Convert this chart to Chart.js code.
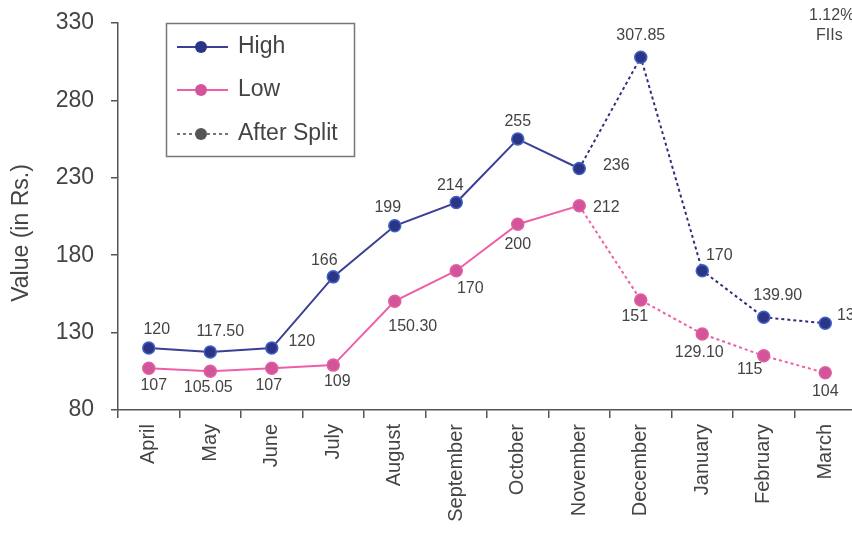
<!DOCTYPE html>
<html>
<head>
<meta charset="utf-8">
<script src="https://cdn.jsdelivr.net/npm/chart.js@4"></script>
<style>
  html, body { margin: 0; padding: 0; background: #fff; overflow: hidden; }
  #wrap { width: 856px; height: 543px; position: relative; }
</style>
</head>
<body>
<div id="wrap"><canvas id="chart"></canvas></div>
<script>
// data
const months = ["April", "May", "June", "July", "August", "September", "October",
  "November", "December", "January", "February", "March"];
const highValues = [120, 117.5, 120, 166, 199, 214, 255, 236, 307.85, 170, 139.9, 136];
const lowValues = [107, 105.05, 107, 109, 150.3, 170, 200, 212, 151, 129.1, 115, 104];
const highText = ["120", "117.50", "120", "166", "199", "214", "255", "236", "307.85", "170", "139.90", "136"];
const lowText = ["107", "105.05", "107", "109", "150.30", "170", "200", "212", "151", "129.10", "115", "104"];
const yTicks = [80, 130, 180, 230, 280, 330];
const splitIndex = 7; // dotted "after split" from November onwards

// where each value label sits relative to its point (dx, dy)
const highOffsets = [[8, -18], [10, -20], [30, -6], [-9, -16], [-7, -18], [-6, -17],
  [0, -18], [37, -3], [0, -22], [17, -15], [14, -22], [25, -8]];
const lowOffsets = [[5, 17], [-2, 16], [-3, 17], [4, 16], [18, 25], [14, 18],
  [0, 20], [27, 2], [-6, 17], [-3, 19], [-14, 14], [0, 19]];

const FONT = "'Liberation Sans', Arial, sans-serif";
const TEXT = "#444";
const HIGH_LINE = "#3b3f96";
const HIGH_DOT = "#2c3585";
const LOW_LINE = "#ee5fa7";
const LOW_DOT = "#d4549c";

const dashAfterSplit = (ctx) => (ctx.p0DataIndex >= splitIndex ? [3, 3] : undefined);

// value labels next to points, axis title and clipped note
const valueLabels = {
  id: "valueLabels",
  afterDatasetsDraw(chart) {
    const c = chart.ctx;
    c.save();
    c.font = "16px " + FONT;
    c.fillStyle = TEXT;
    c.textAlign = "center";
    c.textBaseline = "middle";
    [[0, highText, highOffsets], [1, lowText, lowOffsets]].forEach(([di, txt, off]) => {
      chart.getDatasetMeta(di).data.forEach((pt, i) => {
        c.fillText(txt[i], pt.x + off[i][0], pt.y + off[i][1]);
      });
    });
    c.textAlign = "left";
    c.fillText("1.12%", 809, 16);
    c.fillText("FIIs", 816, 36);

    c.translate(22, 233);
    c.rotate(-Math.PI / 2);
    c.textAlign = "center";
    c.font = "23px " + FONT;
    c.fillText("Value (in Rs.)", 0, 0);
    c.restore();
  }
};

// boxed legend with line + marker samples
const boxLegend = {
  id: "boxLegend",
  afterDraw(chart) {
    const c = chart.ctx;
    c.save();
    c.strokeStyle = "#777";
    c.lineWidth = 1.5;
    c.strokeRect(166.5, 23.5, 188, 133);
    const items = [
      { label: "High", y: 47, line: HIGH_LINE, dot: HIGH_DOT, dash: [] },
      { label: "Low", y: 90, line: LOW_LINE, dot: LOW_DOT, dash: [] },
      { label: "After Split", y: 134, line: "#666", dot: "#555", dash: [3, 3] }
    ];
    items.forEach((it) => {
      c.setLineDash(it.dash);
      c.strokeStyle = it.line;
      c.lineWidth = 1.8;
      c.beginPath();
      c.moveTo(177, it.y);
      c.lineTo(228, it.y);
      c.stroke();
      c.setLineDash([]);
      c.fillStyle = it.dot;
      c.beginPath();
      c.arc(201, it.y, 6, 0, Math.PI * 2);
      c.fill();
      c.fillStyle = TEXT;
      c.font = "23px " + FONT;
      c.textAlign = "left";
      c.textBaseline = "middle";
      c.fillText(it.label, 238, it.y);
    });
    c.restore();
  }
};

new Chart(document.getElementById("chart"), {
  type: "line",
  data: {
    labels: months,
    datasets: [
      {
        label: "High",
        data: highValues,
        borderColor: HIGH_LINE,
        borderWidth: 2,
        pointBackgroundColor: HIGH_DOT,
        pointBorderColor: "#3f63c4",
        pointBorderWidth: 1.5,
        pointRadius: 6,
        tension: 0,
        segment: { borderDash: dashAfterSplit, borderColor: (ctx) => (ctx.p0DataIndex >= splitIndex ? "#2e2f7a" : undefined) }
      },
      {
        label: "Low",
        data: lowValues,
        borderColor: LOW_LINE,
        borderWidth: 2,
        pointBackgroundColor: LOW_DOT,
        pointBorderColor: "#e0609f",
        pointBorderWidth: 1.5,
        pointRadius: 6,
        tension: 0,
        segment: { borderDash: dashAfterSplit }
      }
    ]
  },
  options: {
    responsive: true,
    maintainAspectRatio: false,
    animation: false,
    layout: { autoPadding: false, padding: { top: 23, left: 0, right: 0, bottom: 0 } },
    plugins: {
      legend: { display: false },
      tooltip: { enabled: false }
    },
    scales: {
      x: {
        offset: true,
        grid: { offset: true, drawOnChartArea: false, drawTicks: true, tickLength: 8, color: "#555", lineWidth: 1.5 },
        border: { color: "#555", width: 1.5 },
        ticks: {
          minRotation: 90, maxRotation: 90, autoSkip: false, padding: 6,
          color: TEXT, font: { family: FONT, size: 20 }
        },
        afterFit(scale) {
          scale.height = 133;
          scale.paddingLeft = 0;
          scale.paddingRight = 0;
        }
      },
      y: {
        min: 80,
        max: 330,
        afterBuildTicks(scale) { scale.ticks = yTicks.map((v) => ({ value: v })); },
        grid: { drawOnChartArea: false, drawTicks: true, tickLength: 7, color: "#555", lineWidth: 1.5 },
        border: { color: "#555", width: 1.5 },
        ticks: { padding: 17, color: TEXT, font: { family: FONT, size: 23 } },
        afterFit(scale) {
          scale.width = 118;
          // tick padding would otherwise push the plot top down
          scale.paddingTop = 0;
          scale.paddingBottom = 0;
        }
      }
    }
  },
  plugins: [valueLabels, boxLegend]
});
</script>
</body>
</html>
